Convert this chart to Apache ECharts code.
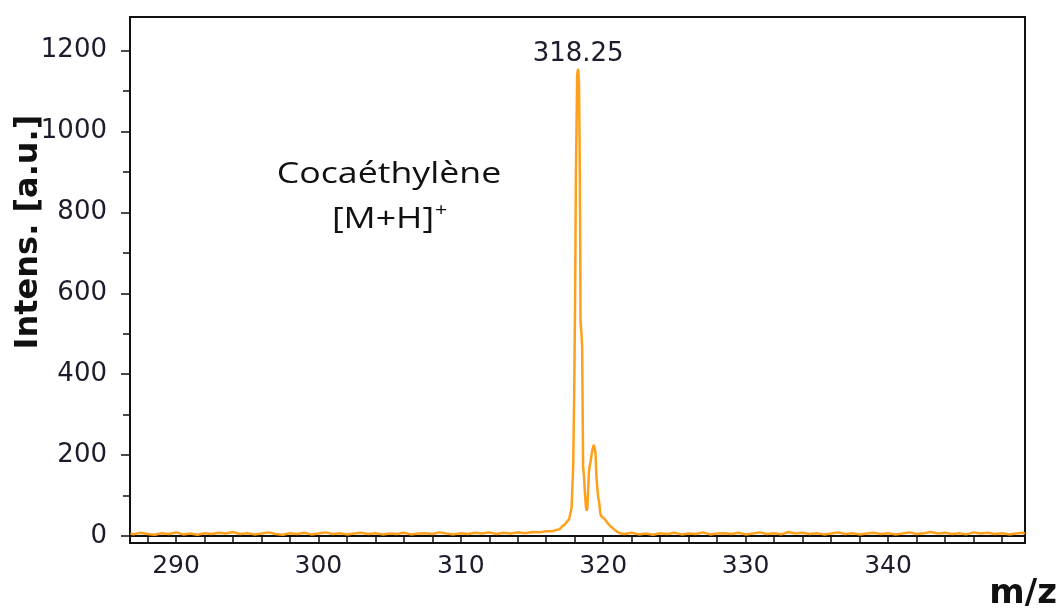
<!DOCTYPE html>
<html>
<head>
<meta charset="utf-8">
<script src="https://cdn.jsdelivr.net/npm/echarts@6/dist/echarts.min.js"></script>
<style>
html,body{margin:0;padding:0;background:#fff;}
#chart{width:1059px;height:608px;}
</style>
</head>
<body>
<div id="chart"></div>
<script>
// ---- data ----
const mzLeft = [286.8,287.0,287.5,288.0,288.5,289.0,289.5,290.0,290.5,291.0,291.5,292.0,292.5,293.0,293.5,294.0,294.5,295.0,295.5,296.0,296.5,297.0,297.5,298.0,298.5,299.0,299.5,300.0,300.5,301.0,301.5,302.0,302.5,303.0,303.5,304.0,304.5,305.0,305.5,306.0,306.5,307.0,307.5,308.0,308.5,309.0,309.5,310.0,310.5,311.0,311.5,312.0,312.5,313.0,313.5,314.0,314.5,315.0,315.5,316.0];
const intLeft = [6,4,8,5,3,7,5,9,4,6,3,7,5,8,6,10,5,7,4,6,9,5,3,7,5,8,4,6,9,5,7,4,6,8,5,7,4,6,5,8,4,6,7,5,9,6,4,7,5,8,6,9,5,8,6,9,7,10,9,12];
const mzPeak = [316.48,316.7,316.95,317.15,317.3,317.45,317.61,317.78,317.89,317.96,318.03,318.08,318.17,318.24,318.3,318.36,318.41,318.47,318.52,318.59,318.65,318.71,318.78,318.83,318.89,318.94,319.0,319.06,319.12,319.18,319.25,319.34,319.4,319.46,319.52,319.57,319.65,319.71,319.8,319.88,320.0,320.1,320.23,320.35,320.45,320.58,320.7,320.85,321.0,321.17];
const intPeak = [12,15,17,25,28,35,42,70,170,340,600,880,1140,1155,1120,900,530,500,470,171,150,110,75,62,70,110,160,175,185,200,215,225,218,205,150,125,95,85,55,48,45,42,38,30,33,22,18,14,10,7];
const mzRight = [321.5,322.0,322.5,323.0,323.5,324.0,324.5,325.0,325.5,326.0,326.5,327.0,327.5,328.0,328.5,329.0,329.5,330.0,330.5,331.0,331.5,332.0,332.5,333.0,333.5,334.0,334.5,335.0,335.5,336.0,336.5,337.0,337.5,338.0,338.5,339.0,339.5,340.0,340.5,341.0,341.5,342.0,342.5,343.0,343.5,344.0,344.5,345.0,345.5,346.0,346.5,347.0,347.5,348.0,348.5,349.0,349.5,349.6];
const intRight = [5,8,4,6,3,7,5,8,4,6,5,9,4,6,7,5,8,4,6,9,5,7,4,10,6,8,5,7,4,6,9,5,7,4,6,8,5,7,4,6,9,5,7,10,6,8,5,7,4,9,6,8,5,7,4,6,8,5];

const xMajorTicks = [290,300,310,320,330,340];
const xMinorTicks = [288,292,294,296,298,302,304,306,308,312,314,316,318,322,324,326,328,332,334,336,338,342,344,346,348];
const yMajorTicks = [0,200,400,600,800,1000,1200];
const yMinorTicks = [100,300,500,700,900,1100];

const peakMz = 318.24, peakInt = 1155, peakLabel = '318.25';
const compoundName = 'Cocaéthylène';
const ionLabel = '[M+H]';
const ionCharge = '+';
const yTitle = 'Intens. [a.u.]';
const xTitle = 'm/z';

// ---- build ----
const mzAll = mzLeft.concat(mzPeak, mzRight);
const intAll = intLeft.concat(intPeak, intRight);
const seriesData = mzAll.map((m, i) => [m, intAll[i]]);

const X_MIN = 286.77, X_MAX = 349.62, Y_MIN = -17.3, Y_MAX = 1283;
const LINE = '#ffa01c';
const TXT = '#1c1c2c';
const AXIS = '#111';

const chart = echarts.init(document.getElementById('chart'), null, {renderer: 'canvas'});
chart.setOption({
  animation: false,
  backgroundColor: '#fff',
  grid: {left: 130, right: 34, top: 17, bottom: 65, show: true, borderColor: AXIS, borderWidth: 2, outerBoundsMode: 'none'},
  xAxis: [
    {type: 'value', min: X_MIN, max: X_MAX, position: 'bottom',
     axisLine: {show: true, lineStyle: {color: AXIS, width: 2}},
     axisTick: {show: true, length: 8, lineStyle: {color: AXIS, width: 1.5}, customValues: xMajorTicks},
     axisLabel: {show: true, customValues: xMajorTicks, margin: 11, color: TXT, fontFamily: 'DejaVu Sans', fontSize: 25,
                 formatter: v => String(v)},
     splitLine: {show: false}},
    {type: 'value', min: X_MIN, max: X_MAX, position: 'bottom',
     axisLine: {show: false},
     axisTick: {show: true, length: 6, lineStyle: {color: AXIS, width: 1.5}, customValues: xMinorTicks},
     axisLabel: {show: false},
     splitLine: {show: false}}
  ],
  yAxis: [
    {type: 'value', min: Y_MIN, max: Y_MAX, position: 'left',
     axisLine: {show: true, lineStyle: {color: AXIS, width: 2}},
     axisTick: {show: true, length: 9, lineStyle: {color: AXIS, width: 1.5}, customValues: yMajorTicks},
     axisLabel: {show: true, customValues: yMajorTicks, margin: 23, color: TXT, fontFamily: 'DejaVu Sans', fontSize: 26,
                 formatter: v => String(v)},
     splitLine: {show: false}},
    {type: 'value', min: Y_MIN, max: Y_MAX, position: 'left',
     axisLine: {show: false},
     axisTick: {show: true, length: 7, lineStyle: {color: AXIS, width: 1.5}, customValues: yMinorTicks},
     axisLabel: {show: false},
     splitLine: {show: false}}
  ],
  series: [{
    type: 'line', xAxisIndex: 0, yAxisIndex: 0,
    data: seriesData, showSymbol: false, symbol: 'none', sampling: null,
    lineStyle: {color: LINE, width: 2.5}, itemStyle: {color: LINE},
    markPoint: {
      symbol: 'circle', symbolSize: 1, itemStyle: {color: 'rgba(0,0,0,0)'},
      label: {show: true, position: 'top', distance: 1, formatter: peakLabel, color: TXT, fontFamily: 'DejaVu Sans', fontSize: 26},
      data: [{coord: [peakMz, peakInt]}]
    }
  }],
  graphic: [
    {type: 'text', x: 29, y: 232, rotation: Math.PI / 2,
     style: {text: yTitle, fill: '#111', font: 'bold 32px "DejaVu Sans"', align: 'center', verticalAlign: 'middle'}},
    {type: 'text', x: 1057, y: 594,
     style: {text: xTitle, fill: '#111', font: 'bold 34px "DejaVu Sans"', align: 'right', verticalAlign: 'middle'}},
    {type: 'text', x: 389, y: 174, scaleX: 1.19,
     style: {text: compoundName, fill: '#111', font: '30px "Open Sans"', align: 'center', verticalAlign: 'middle'}},
    {type: 'text', x: 383, y: 219, scaleX: 1.19,
     style: {text: ionLabel, fill: '#111', font: '30px "Open Sans"', align: 'center', verticalAlign: 'middle'}},
    {type: 'text', x: 441, y: 211, scaleX: 1.19,
     style: {text: ionCharge, fill: '#111', font: '18px "Open Sans"', align: 'center', verticalAlign: 'middle'}}
  ]
});
</script>
</body>
</html>
